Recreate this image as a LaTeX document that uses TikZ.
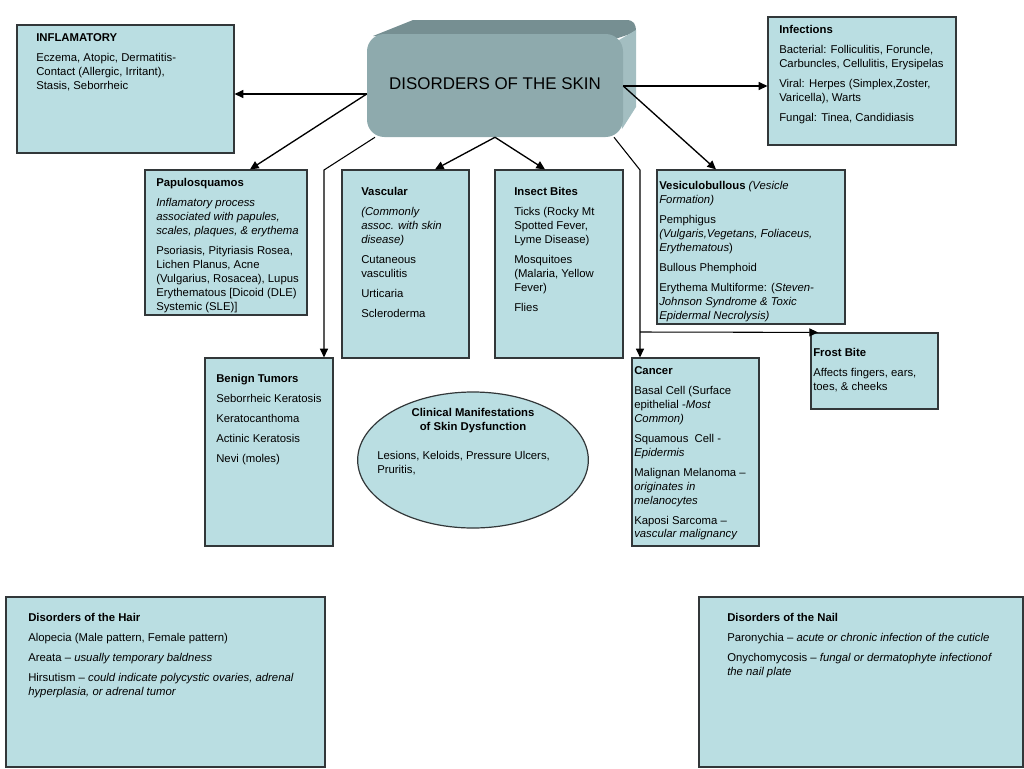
\documentclass[tikz,border=0pt]{standalone}
\usepackage{fontspec}
\setmainfont{Liberation Sans}
\usetikzlibrary{arrows.meta,fit,shapes.geometric}
\definecolor{boxc}{RGB}{186,222,226}
\definecolor{bordc}{RGB}{50,55,57}
\definecolor{frontc}{RGB}{142,170,173}
\definecolor{topc}{RGB}{118,143,146}
\definecolor{sidec}{RGB}{163,190,193}
\begin{document}
\begin{tikzpicture}[x=0.75pt,y=-0.75pt,
  box/.style={draw=bordc, fill=boxc, line width=0.9pt, inner sep=0pt},
  txt/.style={anchor=north west, inner sep=0pt, align=left, font=\fontsize{8.5}{10.4}\selectfont},
  arr/.style={draw=black, line width=1pt, -{Triangle[length=6.5pt,width=6pt]}},
  link/.style={draw=black, line width=0.8pt, -{Triangle[length=6.5pt,width=6pt]}}]
\useasboundingbox (0,0) rectangle (1024,768);

% central 3D box
\fill[topc] (373,36) -- (413,20) -- (626,20) .. controls (634,20) and (636,24) .. (636,32) -- (618,38) -- cycle;
\fill[sidec] (619,40) -- (636,30) -- (636,107) -- (622,129) -- cycle;
\node[fit={(367,34) (623,137)}, inner sep=0pt, fill=frontc, rounded corners=13pt] (skin) {};
\node[inner sep=0pt, font=\fontsize{12.7}{15}\selectfont] (skinT) at (495,84) {DISORDERS OF THE SKIN};

% boxes
\node[box, fit={(17,25) (234,153)}] (infl) {};
\node[box, fit={(768,17) (956,145)}] (infec) {};
\node[box, fit={(145,170) (307,315)}] (papulo) {};
\node[box, fit={(342,170) (469,358)}] (vasc) {};
\node[box, fit={(495,170) (623,358)}] (insect) {};
\node[box, fit={(657,170) (845,324)}] (vesic) {};
\node[box, fit={(811,333) (938,409)}] (frost) {};
\node[box, fit={(632,358) (759,546)}] (cancer) {};
\node[box, fit={(205,358) (333,546)}] (benign) {};
\node[box, ellipse, minimum width=173pt, minimum height=102pt] (clin) at (473,460) {};
\node[box, fit={(6,597) (325,767)}] (hair) {};
\node[box, fit={(699,597) (1023,767)}] (nail) {};

% texts
\node[txt] (inflT) at (36,33.5) {\textbf{INFLAMATORY}\\[4.6pt]Eczema, Atopic, Dermatitis-\\Contact (Allergic, Irritant),\\Stasis, Seborrheic};
\node[txt] (infecT) at (779,25) {\textbf{Infections}\\[4.6pt]Bacterial: Folliculitis, Foruncle,\\Carbuncles, Cellulitis, Erysipelas\\[4.6pt]Viral: Herpes (Simplex,Zoster,\\Varicella), Warts\\[4.6pt]Fungal: Tinea, Candidiasis};
\node[txt] (papuloT) at (156,178.5) {\textbf{Papulosquamos}\\[4.6pt]\textit{Inflamatory process}\\\textit{associated with papules,}\\\textit{scales, plaques, \& erythema}\\[4.6pt]Psoriasis, Pityriasis Rosea,\\Lichen Planus, Acne\\(Vulgarius, Rosacea), Lupus\\Erythematous [Dicoid (DLE)\\Systemic (SLE)]};
\node[txt] (vascT) at (361,187.5) {\textbf{Vascular}\\[4.6pt]\textit{(Commonly}\\\textit{assoc. with skin}\\\textit{disease)}\\[4.6pt]Cutaneous\\vasculitis\\[4.6pt]Urticaria\\[4.6pt]Scleroderma};
\node[txt] (insectT) at (514,187.5) {\textbf{Insect Bites}\\[4.6pt]Ticks (Rocky Mt\\Spotted Fever,\\Lyme Disease)\\[4.6pt]Mosquitoes\\(Malaria, Yellow\\Fever)\\[4.6pt]Flies};
\node[txt] (vesicT) at (659,181.5) {\textbf{Vesiculobullous} \textit{(Vesicle}\\\textit{Formation)}\\[4.6pt]Pemphigus\\\textit{(Vulgaris,Vegetans, Foliaceus,}\\\textit{Erythematous})\\[4.6pt]Bullous Phemphoid\\[4.6pt]Erythema Multiforme: (\textit{Steven-}\\\textit{Johnson Syndrome \& Toxic}\\\textit{Epidermal Necrolysis)}};
\node[txt] (frostT) at (813,348.5) {\textbf{Frost Bite}\\[4.6pt]Affects fingers, ears,\\toes, \& cheeks};
\node[txt] (cancerT) at (634,366.5) {\textbf{Cancer}\\[4.6pt]Basal Cell (Surface\\epithelial -\textit{Most}\\\textit{Common)}\\[4.6pt]Squamous~ Cell -\\\textit{Epidermis}\\[4.6pt]Malignan Melanoma –\\\textit{originates in}\\\textit{melanocytes}\\[4.6pt]Kaposi Sarcoma –\\\textit{vascular malignancy}};
\node[txt] (benignT) at (216,374.5) {\textbf{Benign Tumors}\\[4.6pt]Seborrheic Keratosis\\[4.6pt]Keratocanthoma\\[4.6pt]Actinic Keratosis\\[4.6pt]Nevi (moles)};
\node[txt, anchor=north, align=center] (clinH) at (473,408.5) {\textbf{Clinical Manifestations}\\\textbf{of Skin Dysfunction}};
\node[txt] (clinT) at (377,451.5) {Lesions, Keloids, Pressure Ulcers,\\Pruritis,};
\node[txt] (hairT) at (28,613.5) {\textbf{Disorders of the Hair}\\[4.6pt]Alopecia (Male pattern, Female pattern)\\[4.6pt]Areata – \textit{usually temporary baldness}\\[4.6pt]Hirsutism – \textit{could indicate polycystic ovaries, adrenal}\\\textit{hyperplasia, or adrenal tumor}};
\node[txt] (nailT) at (727,613.5) {\textbf{Disorders of the Nail}\\[4.6pt]Paronychia – \textit{acute or chronic infection of the cuticle}\\[4.6pt]Onychomycosis – \textit{fungal or dermatophyte infectionof}\\\textit{the nail plate}};

% connectors
\draw[arr] (skin.west |- 0,94) -- (infl.east |- 0,94);
\draw[arr] (skin.west |- 0,94) -- (papulo.north -| 250,0);
\draw[arr] (skin.south) -- (vasc.north -| 435,0);
\draw[arr] (skin.south) -- (insect.north -| 545,0);
\draw[arr] (skin.east |- 0,86) -- (infec.west |- 0,86);
\draw[arr] (skin.east |- 0,86) -- (vesic.north -| 716,0);
\draw[link] (skin.south -| 375,0) -- (324,170) -- (benign.north -| 324,0);
\draw[link] (skin.south -| 614,0) -- (640,170) -- (cancer.north -| 640,0);
\coordinate (br) at (640,332);
\draw[link] (br) -- (frost.north west -| 818,0);
\end{tikzpicture}
\end{document}
